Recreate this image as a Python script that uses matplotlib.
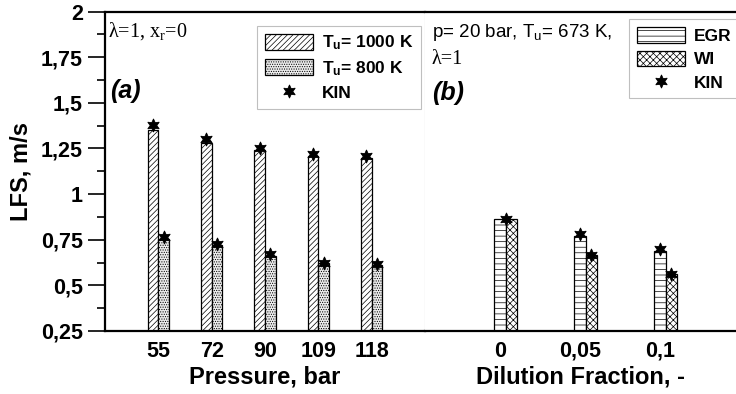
import matplotlib
matplotlib.use('Agg')
import matplotlib.pyplot as plt
import numpy as np
from matplotlib.lines import Line2D
from matplotlib.ticker import FuncFormatter, MultipleLocator

# dados
pressure_labels = ['55', '72', '90', '109', '118']
lfs_1000 = [1.35, 1.28, 1.24, 1.21, 1.20]
kin_1000 = [1.38, 1.30, 1.25, 1.22, 1.21]
lfs_800 = [0.755, 0.72, 0.66, 0.62, 0.61]
kin_800 = [0.765, 0.725, 0.67, 0.625, 0.615]

dilution_labels = ['0', '0,05', '0,1']
lfs_egr = [0.865, 0.77, 0.69]
kin_egr = [0.865, 0.78, 0.70]
lfs_wi = [0.865, 0.665, 0.56]
kin_wi = [0.865, 0.665, 0.56]

plt.rcParams['font.family'] = ['Liberation Sans', 'DejaVu Sans']
plt.rcParams['mathtext.default'] = 'regular'
plt.rcParams['hatch.linewidth'] = 0.5

W, H = 736, 394
fig = plt.figure(figsize=(W / 100, H / 100), dpi=100)
x0, xm, yb, yt = 105, 425, 331, 11.5
ax1 = fig.add_axes([x0 / W, 1 - yb / H, (xm - x0) / W, (yb - yt) / H])
ax2 = fig.add_axes([xm / W, 1 - yb / H, (W - xm) / W, (yb - yt) / H])

# estrela de seis pontas (KIN)
star = dict(marker=(6, 1, 0), markersize=9.5, color='black', markeredgewidth=0.6,
            linestyle='none')

# painel (a)
xa = np.arange(len(pressure_labels))
wa = 0.2
b1 = ax1.bar(xa - wa / 2, lfs_1000, wa, color='white', edgecolor='black',
             linewidth=0.9, hatch='//////')
b2 = ax1.bar(xa + wa / 2, lfs_800, wa, color='#ececec', edgecolor='black',
             linewidth=0.9, hatch='.......')
ax1.plot(xa - wa / 2, kin_1000, **star)
ax1.plot(xa + wa / 2, kin_800, **star)
ax1.set_xlim(-1, 5)
ax1.set_xticks(xa)
ax1.set_xticklabels(pressure_labels)

# painel (b)
xb = np.arange(len(dilution_labels))
wb = 0.14
b3 = ax2.bar(xb, lfs_egr, wb, color='white', edgecolor='black',
             linewidth=0.9, hatch='---')
b4 = ax2.bar(xb + wb, lfs_wi, wb, color='white', edgecolor='black',
             linewidth=0.9, hatch='xxxxx')
for i in range(len(xb)):
    if kin_egr[i] == kin_wi[i] and lfs_egr[i] == lfs_wi[i]:
        ax2.plot(xb[i] + wb / 2, kin_egr[i], **star)
    else:
        ax2.plot(xb[i], kin_egr[i], **star)
        ax2.plot(xb[i] + wb, kin_wi[i], **star)
ax2.set_xlim(-0.9375, 2.95)
ax2.set_xticks(xb)
ax2.set_xticklabels(dilution_labels)

fmt = FuncFormatter(lambda v, p: f'{v:g}'.replace('.', ','))
for ax in (ax1, ax2):
    ax.set_ylim(0.25, 2)
    ax.spines['top'].set_linewidth(1.6)
    ax.spines['bottom'].set_linewidth(1.6)
    ax.tick_params(axis='x', length=0, pad=7, labelsize=15.5)
    for t in ax.get_xticklabels():
        t.set_fontweight('bold')

ax1.yaxis.set_major_locator(MultipleLocator(0.25))
ax1.yaxis.set_minor_locator(MultipleLocator(0.125))
ax1.yaxis.set_major_formatter(fmt)
ax1.tick_params(axis='y', which='major', length=12, width=1.2, labelsize=15.5, pad=4)
ax1.tick_params(axis='y', which='minor', length=6, width=1.2)
for t in ax1.get_yticklabels():
    t.set_fontweight('bold')
ax1.spines['left'].set_linewidth(1.6)
ax1.spines['right'].set_color('#b0b0b0')
ax1.spines['right'].set_linewidth(0.8)
ax2.spines['left'].set_visible(False)
ax2.spines['right'].set_visible(False)
ax2.set_yticks([])

ax1.set_ylabel('LFS, m/s', fontsize=17, fontweight='bold', labelpad=6)
ax1.set_xlabel('Pressure, bar', fontsize=17, fontweight='bold', labelpad=3)
ax2.set_xlabel('Dilution Fraction, -', fontsize=17, fontweight='bold', labelpad=3)

# anotações
ax1.text(0.01, 0.94, r'λ=1, x$_\mathregular{r}$=0', transform=ax1.transAxes,
         fontsize=14.5, family=['Liberation Serif', 'DejaVu Serif'], va='center')
ax1.text(0.015, 0.75, '(a)', transform=ax1.transAxes, fontsize=18,
         fontweight='bold', style='italic', va='center')
ax2.text(0.022, 0.935, r'p= 20 bar, T$_\mathregular{u}$= 673 K,', transform=ax2.transAxes,
         fontsize=13.5, va='center')
ax2.text(0.022, 0.85, 'λ=1', transform=ax2.transAxes, fontsize=14.5,
         family=['Liberation Serif', 'DejaVu Serif'], va='center')
ax2.text(0.022, 0.745, '(b)', transform=ax2.transAxes, fontsize=18,
         fontweight='bold', style='italic', va='center')

kin_handle = Line2D([], [], **star)
leg_kw = dict(frameon=True, fancybox=False, edgecolor='#b0b0b0', handlelength=2.8,
              handleheight=1.0, borderpad=0.45, labelspacing=0.38, handletextpad=0.5,
              prop={'weight': 'bold', 'size': 12.5}, borderaxespad=0)
leg1 = ax1.legend([b1, b2, kin_handle],
                  [r'T$_\mathregular{u}$= 1000 K', r'T$_\mathregular{u}$= 800 K', 'KIN'],
                  loc='upper left', bbox_to_anchor=(0.475, 0.955), **leg_kw)
leg1.get_frame().set_linewidth(0.8)
leg2 = ax2.legend([b3, b4, kin_handle], ['EGR', 'WI', 'KIN'],
                  loc='upper left', bbox_to_anchor=(0.656, 0.975), **leg_kw)
leg2.get_frame().set_linewidth(0.8)

fig.savefig('out.png', dpi=100)
